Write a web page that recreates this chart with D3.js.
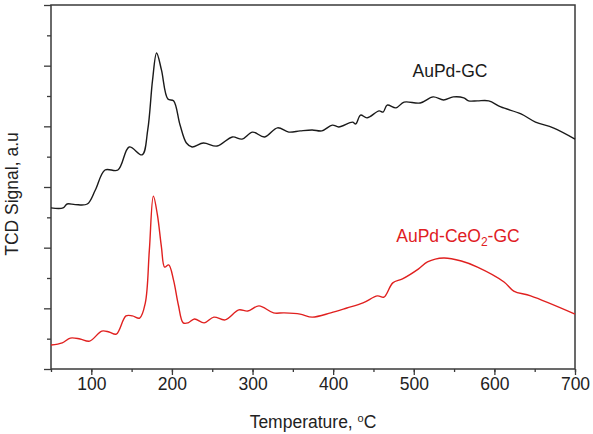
<!DOCTYPE html>
<html>
<head>
<meta charset="utf-8">
<script src="https://cdn.jsdelivr.net/npm/d3@7"></script>
<style>
  body { margin: 0; background: #fff; }
  svg { display: block; font-family: "Liberation Sans", Arial, sans-serif; }
</style>
</head>
<body>
<div id="chart"></div>
<script>
// temperature (°C) / signal (a.u.)
var gcTemp = [50,65,70,80,95,105,117,133,147,163,170,176,181,187,195,202,210,218,225,239,256,275,287,300,315,331,345,359,374,386,399,407,424,428,434,442,457,462,467,478,488,508,524,537,549,562,568,579,593,608,633,651,673,700];
var gcSig  = [5.31,5.31,5.44,5.42,5.44,5.90,6.56,6.56,7.32,7.06,7.88,9.53,10.42,9.86,8.90,8.84,8.05,7.45,7.32,7.45,7.35,7.65,7.58,7.81,7.65,7.95,7.81,7.85,7.88,7.85,8.04,7.98,8.14,8.08,8.37,8.28,8.51,8.47,8.70,8.61,8.80,8.77,8.97,8.87,8.97,8.94,8.84,8.84,8.84,8.64,8.41,8.14,7.95,7.58];

var ceTemp = [50,64,74,86,98,113,122,131,143,151,160,167,172,177,182,187,191,196,202,208,214,220,228,240,252,266,283,294,308,326,339,359,374,397,417,437,455,463,474,486,506,517,537,559,579,612,624,645,700];
var ceSig  = [0.79,0.86,1.02,0.99,0.92,1.25,1.22,1.15,1.75,1.75,1.68,2.18,3.92,5.70,5.08,4.02,3.36,3.43,2.93,2.11,1.52,1.52,1.65,1.52,1.71,1.62,1.95,1.91,2.08,1.85,1.85,1.81,1.71,1.85,2.01,2.18,2.41,2.37,2.84,2.97,3.30,3.53,3.66,3.56,3.36,2.87,2.57,2.41,1.81];

var xTicks = [100,200,300,400,500,600,700];

(function() {
	"use strict";
	var W = 593, H = 434;
	var m = { left: 51, right: 18, top: 5, bottom: 65 };
	var fs = 17.5;

	var svg = d3.select("#chart").append("svg")
		.attr("width", W).attr("height", H);

	var x = d3.scaleLinear().domain([50, 700]).range([m.left, W - m.right]);
	var y = d3.scaleLinear().domain([0, 12]).range([H - m.bottom, m.top]);

	var axisColor = "#3a3a3a";

	// 외곽 박스
	svg.append("rect")
		.attr("x", x(50)).attr("y", y(12))
		.attr("width", x(700) - x(50)).attr("height", y(0) - y(12))
		.attr("fill", "none").attr("stroke", axisColor).attr("stroke-width", 1.5);

	// x축 (major + minor)
	var xMinor = d3.range(50, 701, 50);
	svg.append("g").attr("transform", "translate(0," + y(0) + ")")
		.call(d3.axisBottom(x).tickValues(xMinor).tickSize(3).tickFormat(""))
		.call(function(g) { g.select(".domain").remove(); g.selectAll("line").attr("stroke", axisColor).attr("stroke-width", 1.3); });
	var gx = svg.append("g").attr("transform", "translate(0," + y(0) + ")")
		.call(d3.axisBottom(x).tickValues(xTicks).tickSize(6).tickPadding(3).tickFormat(d3.format("d")));
	gx.select(".domain").remove();
	gx.selectAll("line").attr("stroke", axisColor).attr("stroke-width", 1.3);
	gx.selectAll("text").attr("font-size", fs).attr("fill", "#222")
		.attr("font-family", "Liberation Sans, Arial, sans-serif");

	// y축 (라벨 없음)
	var gyMinor = svg.append("g").attr("transform", "translate(" + x(50) + ",0)")
		.call(d3.axisLeft(y).tickValues(d3.range(1, 12, 2)).tickSize(4).tickFormat(""));
	gyMinor.select(".domain").remove();
	gyMinor.selectAll("line").attr("stroke", axisColor).attr("stroke-width", 1.3);
	var gy = svg.append("g").attr("transform", "translate(" + x(50) + ",0)")
		.call(d3.axisLeft(y).tickValues(d3.range(0, 13, 2)).tickSize(7).tickFormat(""));
	gy.select(".domain").remove();
	gy.selectAll("line").attr("stroke", axisColor).attr("stroke-width", 1.3);

	var line = d3.line()
		.x(function(d) { return x(d[0]); })
		.y(function(d) { return y(d[1]); })
		.curve(d3.curveCatmullRom.alpha(0.5));

	svg.append("path")
		.datum(d3.zip(gcTemp, gcSig))
		.attr("d", line).attr("fill", "none")
		.attr("stroke", "#1a1a1a").attr("stroke-width", 1.4);

	svg.append("path")
		.datum(d3.zip(ceTemp, ceSig))
		.attr("d", line).attr("fill", "none")
		.attr("stroke", "#e0201f").attr("stroke-width", 1.4);

	// 시리즈 라벨
	svg.append("text").attr("x", 450).attr("y", 77)
		.attr("text-anchor", "middle").attr("font-size", fs).attr("fill", "#1a1a1a")
		.text("AuPd-GC");

	var ceLabel = svg.append("text").attr("x", 458).attr("y", 242)
		.attr("text-anchor", "middle").attr("font-size", fs).attr("fill", "#e0201f");
	ceLabel.append("tspan").text("AuPd-CeO");
	ceLabel.append("tspan").attr("font-size", 12).attr("dy", 4).text("2");
	ceLabel.append("tspan").attr("dy", -4).text("-GC");

	// 축 제목
	var title = svg.append("text")
		.attr("x", (x(50) + x(700)) / 2).attr("y", 428)
		.attr("text-anchor", "middle").attr("font-size", fs).attr("fill", "#222");
	title.append("tspan").text("Temperature, ");
	title.append("tspan").attr("font-size", 11).attr("dy", -6).text("o");
	title.append("tspan").attr("dy", 6).text("C");

	svg.append("text")
		.attr("transform", "translate(18," + 194 + ") rotate(-90)")
		.attr("text-anchor", "middle").attr("font-size", fs).attr("fill", "#222")
		.text("TCD Signal, a.u");
})();
</script>
</body>
</html>
